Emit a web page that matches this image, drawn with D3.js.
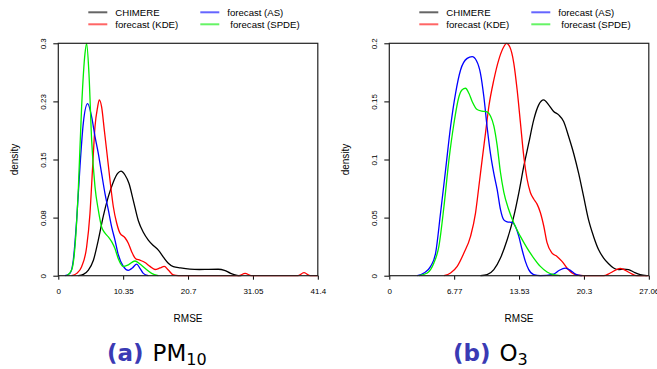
<!DOCTYPE html>
<html lang="en">
<head>
  <meta charset="UTF-8">
  <title>RMSE density: PM10 and O3</title>
  <script src="https://d3js.org/d3.v7.min.js"></script>
  <style>
    body { margin: 0; padding: 0; background: #fff; }
    svg { display: block; font-family: 'Liberation Sans', Arial, sans-serif; }
    .tick line { stroke: #000; }
    .curve { fill: none; stroke-width: 1.3px; }
  </style>
</head>
<body>
<svg id="chart" width="657" height="369"></svg>
<script>
// ---- data: [RMSE, density] ----
const seriesNames = ["CHIMERE", "forecast (KDE)", "forecast (AS)", "forecast (SPDE)"];
const seriesColors = ["#000000", "#ff0000", "#0000ff", "#00ee00"];

// (a) PM10
const pm10Chimere = [[3.2,0],[4.0,0.0017],[4.8,0.0073],[5.6,0.02],[6.38,0.046],[7.18,0.077],[7.98,0.102],[8.78,0.121],[9.47,0.132],[10.0,0.135],[10.64,0.13],[11.28,0.119],[11.97,0.097],[12.77,0.071],[13.56,0.056],[14.36,0.046],[15.16,0.039],[15.96,0.033],[16.76,0.024],[17.55,0.016],[18.35,0.0116],[19.5,0.01],[21.0,0.0085],[22.5,0.008],[24.0,0.0082],[25.5,0.0083],[26.5,0.007],[27.5,0.003],[28.5,0.0005],[29.2,0]];
const pm10Kde = [[2.13,0],[2.93,0.003],[3.72,0.0116],[4.52,0.037],[5.05,0.08],[5.48,0.141],[5.85,0.192],[6.28,0.218],[6.54,0.227],[6.91,0.218],[7.34,0.188],[7.71,0.162],[8.24,0.124],[8.78,0.089],[9.31,0.068],[9.84,0.055],[10.64,0.049],[11.17,0.042],[11.7,0.031],[12.34,0.022],[13.03,0.02],[13.83,0.017],[14.63,0.012],[15.43,0.008],[16.22,0.01],[16.91,0.012],[17.55,0.0073],[18.35,0.001],[19.15,0],[28.8,0],[29.8,0.003],[30.8,0],[38.2,0],[39.2,0.004],[40.2,0],[41.4,0]];
const pm10As = [[1.06,0],[1.86,0.003],[2.39,0.02],[2.93,0.072],[3.46,0.141],[3.99,0.197],[4.68,0.222],[5.32,0.205],[5.85,0.18],[6.38,0.158],[6.91,0.132],[7.45,0.106],[7.98,0.085],[8.51,0.063],[9.04,0.046],[9.57,0.027],[10.37,0.012],[11.17,0.007],[11.81,0.01],[12.5,0.015],[13.03,0.0095],[13.56,0.003],[14.36,0]];
const pm10Spde = [[1.33,0],[2.13,0.0073],[2.66,0.0374],[3.19,0.111],[3.72,0.218],[4.26,0.287],[4.52,0.3],[4.89,0.261],[5.32,0.175],[5.85,0.115],[6.38,0.085],[6.91,0.063],[7.45,0.055],[7.98,0.05],[8.51,0.044],[9.04,0.035],[9.57,0.022],[10.37,0.012],[11.17,0.014],[12.23,0.019],[13.03,0.015],[13.83,0.0095],[14.89,0.003],[15.96,0]];
const pm10XTicks = [0, 10.35, 20.7, 31.05, 41.4];
const pm10XLabels = ["0", "10.35", "20.7", "31.05", "41.4"];
const pm10YTicks = [0, 0.075, 0.15, 0.225, 0.3];
const pm10YLabels = ["0", "0.08", "0.15", "0.23", "0.3"];

// (b) O3
const o3Chimere = [[9.51,0],[10.2,0.0009],[10.9,0.0052],[11.59,0.0152],[12.29,0.0309],[12.98,0.051],[13.5,0.0711],[14.02,0.094],[14.54,0.114],[15.06,0.1341],[15.58,0.147],[16.1,0.1513],[16.62,0.147],[17.14,0.1413],[17.66,0.1384],[18.18,0.1327],[18.7,0.1198],[19.22,0.1054],[19.74,0.0882],[20.26,0.0682],[20.78,0.048],[21.3,0.0338],[21.83,0.0223],[22.35,0.0152],[22.87,0.0103],[23.39,0.0066],[23.91,0.0052],[24.43,0.0057],[24.95,0.0052],[25.47,0.0032],[26.16,0.0009],[26.85,0]];
const o3Kde = [[5.7,0],[6.39,0.0023],[7.08,0.008],[7.78,0.0195],[8.47,0.0338],[8.99,0.0539],[9.34,0.0768],[9.68,0.0997],[10.03,0.1226],[10.38,0.1456],[10.9,0.1685],[11.42,0.186],[11.94,0.197],[12.22,0.2],[12.56,0.197],[12.98,0.183],[13.33,0.16],[13.67,0.132],[14.02,0.103],[14.37,0.083],[14.71,0.0716],[15.06,0.066],[15.41,0.0616],[15.75,0.0544],[16.1,0.043],[16.45,0.0284],[16.97,0.0195],[17.49,0.0166],[18.01,0.0123],[18.53,0.0066],[19.05,0.0023],[19.57,0.0006],[20.26,0],[22.35,0],[23.04,0.0023],[24.08,0.0063],[25.12,0.0023],[25.81,0],[27.06,0]];
const o3As = [[2.92,0],[3.61,0.0023],[4.31,0.008],[4.83,0.0195],[5.35,0.0544],[5.87,0.0911],[6.39,0.1284],[6.91,0.157],[7.43,0.177],[8.12,0.187],[8.64,0.1885],[9.09,0.185],[9.51,0.174],[9.86,0.154],[10.2,0.128],[10.55,0.105],[10.9,0.088],[11.25,0.074],[11.59,0.057],[11.94,0.048],[12.29,0.0464],[12.81,0.0458],[13.15,0.0424],[13.5,0.034],[13.85,0.0223],[14.19,0.0123],[14.54,0.0052],[15.06,0.0009],[15.75,0],[17.14,0.0014],[17.66,0.0043],[18.36,0.0066],[18.88,0.0046],[19.4,0.0014],[20.09,0]];
const o3Spde = [[3.09,0],[3.96,0.0023],[4.65,0.0109],[5.17,0.0252],[5.7,0.0596],[6.22,0.0997],[6.74,0.131],[7.26,0.154],[7.6,0.16],[7.95,0.1613],[8.3,0.157],[8.64,0.15],[9.16,0.143],[9.68,0.1417],[10.2,0.1409],[10.55,0.1375],[10.9,0.129],[11.25,0.112],[11.59,0.089],[11.94,0.072],[12.46,0.0567],[12.98,0.0453],[13.67,0.0338],[14.37,0.0238],[15.06,0.0152],[15.75,0.008],[16.45,0.0032],[17.14,0.0009],[17.84,0]];
const o3XTicks = [0, 6.765, 13.53, 20.295, 27.06];
const o3XLabels = ["0", "6.77", "13.53", "20.3", "27.06"];
const o3YTicks = [0, 0.05, 0.1, 0.15, 0.2];
const o3YLabels = ["0", "0.05", "0.1", "0.15", "0.2"];

const svg = d3.select("#chart");

function drawPanel(left, xMax, yMax, series, xTicks, xLabels, yTicks, yLabels, capLetter, capMain, capSub, capX) {
  const top = 43.3, bottom = 275.7, w = 259.5;
  const x = d3.scaleLinear().domain([0, xMax]).range([left, left + w]);
  const y = d3.scaleLinear().domain([0, yMax]).range([bottom, top]);

  // x axis
  const gx = svg.append("g")
    .attr("transform", `translate(0,${bottom})`)
    .call(d3.axisBottom(x).tickValues(xTicks).tickSize(4).tickSizeOuter(0)
      .tickFormat((d, i) => xLabels[i]));
  gx.select(".domain").remove();
  gx.selectAll("text").attr("y", 18).attr("dy", 0)
    .style("font-size", "8px").attr("fill", "#000");

  // y axis, labels rotated like R's default
  const gy = svg.append("g")
    .attr("transform", `translate(${left},0)`)
    .call(d3.axisLeft(y).tickValues(yTicks).tickSize(5).tickSizeOuter(0)
      .tickFormat((d, i) => yLabels[i]));
  gy.select(".domain").remove();
  gy.selectAll("text")
    .attr("transform", "rotate(-90)")
    .attr("x", 0).attr("y", -12).attr("dy", 0)
    .attr("text-anchor", "middle")
    .style("font-size", "8px").attr("fill", "#000");

  // curves
  const line = d3.line().x(d => x(d[0])).y(d => y(d[1])).curve(d3.curveMonotoneX);
  series.forEach((s, i) => {
    svg.append("path").datum(s).attr("class", "curve")
      .attr("stroke", seriesColors[i]).attr("d", line);
  });

  // box
  svg.append("rect")
    .attr("x", x(0)).attr("y", y(yMax))
    .attr("width", x(xMax) - x(0)).attr("height", y(0) - y(yMax))
    .attr("fill", "none").attr("stroke", "#222").attr("stroke-width", 1.2);

  // axis titles
  svg.append("text")
    .attr("x", left + w / 2).attr("y", 322)
    .attr("text-anchor", "middle").style("font-size", "10px")
    .text("RMSE");
  svg.append("text")
    .attr("transform", `translate(${left - 40},${(top + bottom) / 2}) rotate(-90)`)
    .attr("text-anchor", "middle").style("font-size", "10px")
    .text("density");

  // legend
  const legendPos = [[30, 12.3], [30, 24.3], [142, 12.3], [142, 24.3]];
  legendPos.forEach((p, k) => {
    svg.append("line")
      .attr("x1", left + p[0]).attr("x2", left + p[0] + 19)
      .attr("y1", p[1]).attr("y2", p[1])
      .attr("stroke", seriesColors[k]).attr("stroke-width", 2).attr("opacity", 0.6);
    svg.append("text")
      .attr("x", left + p[0] + 27 + (k === 3 ? 3 : 0)).attr("y", p[1] + 3.5)
      .style("font-size", "9.6px")
      .text(seriesNames[k]);
  });

  // sub-caption
  const cap = svg.append("text")
    .attr("x", capX).attr("y", 361)
    .style("font-family", "'DejaVu Sans', sans-serif")
    .style("font-size", "23px");
  cap.append("tspan").attr("fill", "#3a3ab4").attr("font-weight", "bold").text(capLetter);
  cap.append("tspan").attr("dx", 9).text(capMain);
  cap.append("tspan").attr("dy", 4).style("font-size", "16px").text(capSub);
}

drawPanel(58.3, 41.4, 0.3, [pm10Chimere, pm10Kde, pm10As, pm10Spde],
  pm10XTicks, pm10XLabels, pm10YTicks, pm10YLabels, "(a)", "PM", "10", 107);
drawPanel(389.3, 27.06, 0.2, [o3Chimere, o3Kde, o3As, o3Spde],
  o3XTicks, o3XLabels, o3YTicks, o3YLabels, "(b)", "O", "3", 453);
</script>
</body>
</html>
